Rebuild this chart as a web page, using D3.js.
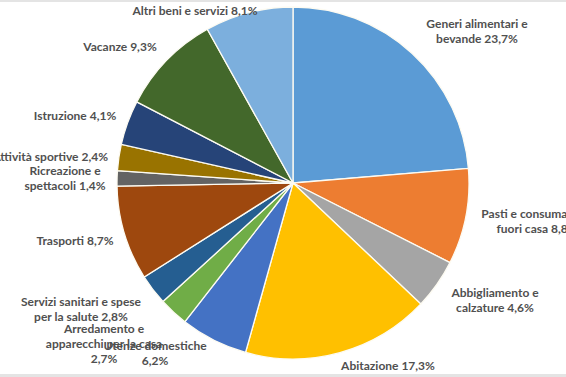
<!DOCTYPE html>
<html>
<head>
<meta charset="utf-8">
<script src="https://cdn.jsdelivr.net/npm/d3@7"></script>
<style>
  html, body { margin: 0; padding: 0; background: #fff; }
  svg { display: block; }
</style>
</head>
<body>
<svg id="chart" width="566" height="377"></svg>
<script>
// spending categories, clockwise from 12 o'clock
var categories = [
  "Generi alimentari e bevande",
  "Pasti e consumazioni fuori casa",
  "Abbigliamento e calzature",
  "Abitazione",
  "Utenze domestiche",
  "Arredamento e apparecchi per la casa",
  "Servizi sanitari e spese per la salute",
  "Trasporti",
  "Ricreazione e spettacoli",
  "Attività sportive",
  "Istruzione",
  "Vacanze",
  "Altri beni e servizi"
];
var shares = [23.7, 8.8, 4.6, 17.3, 6.2, 2.7, 2.8, 8.7, 1.4, 2.4, 4.1, 9.3, 8.1];
var percentLabels = ["23,7%", "8,8%", "4,6%", "17,3%", "6,2%", "2,7%", "2,8%", "8,7%", "1,4%", "2,4%", "4,1%", "9,3%", "8,1%"];

// how each label is broken into lines (last line gets the percentage)
var labelLines = [
  ["Generi alimentari e", "bevande"],
  ["Pasti e consumazioni", "fuori casa"],
  ["Abbigliamento e", "calzature"],
  ["Abitazione"],
  ["Utenze domestiche", ""],
  ["Arredamento e", "apparecchi per la casa", ""],
  ["Servizi sanitari e spese", "per la salute"],
  ["Trasporti"],
  ["Ricreazione e", "spettacoli"],
  ["Attività sportive"],
  ["Istruzione"],
  ["Vacanze"],
  ["Altri beni e servizi"]
];

var colors = ["#5b9bd5", "#ed7d31", "#a5a5a5", "#ffc000", "#4472c4", "#70ad47",
  "#255e91", "#9e480e", "#636363", "#997300", "#264478", "#43682b", "#7cafdd"];

// label anchor (x, baseline of first line, text-anchor), like Excel "best fit"
var labelLayout = [
  [477, 28, "middle"], [537, 218, "middle"], [495, 297, "middle"], [388, 370, "middle"],
  [155, 350, "middle"], [104, 333, "middle"], [81, 306, "middle"], [75, 245, "middle"],
  [65, 175, "middle"], [108, 161, "end"], [75, 120, "middle"], [120, 51, "middle"],
  [195, 15, "middle"]
];

var svg = d3.select("#chart"),
  width = +svg.attr("width"),
  height = +svg.attr("height"),
  cx = 293,
  cy = 183,
  radius = 176;

// thin grey frame strips of the screenshot
svg.append("rect").attr("x", 0).attr("y", 0).attr("width", width).attr("height", 2).attr("fill", "#e4e4e4");
svg.append("rect").attr("x", 0).attr("y", height - 3).attr("width", width).attr("height", 3).attr("fill", "#e4e4e4");

var pie = d3.pie().sort(null).value(function(d) { return d; });
var arc = d3.arc().innerRadius(0).outerRadius(radius);

var g = svg.append("g").attr("transform", "translate(" + cx + "," + cy + ")");

g.selectAll("path")
  .data(pie(shares))
  .enter().append("path")
  .attr("d", arc)
  .attr("fill", function(d, i) { return colors[i]; })
  .attr("stroke", "#fdfbf2")
  .attr("stroke-width", 1.3);

var labels = svg.append("g")
  .attr("font-family", "Lato, 'Open Sans', sans-serif")
  .attr("font-weight", "bold")
  .attr("font-size", 12)
  .attr("fill", "#505050");

labels.selectAll("text")
  .data(categories)
  .enter().append("text")
  .attr("text-anchor", function(d, i) { return labelLayout[i][2]; })
  .each(function(d, i) {
    var t = d3.select(this),
      lines = labelLines[i];
    lines.forEach(function(line, j) {
      var txt = line;
      if (j === lines.length - 1) txt = (line ? line + " " : "") + percentLabels[i];
      t.append("tspan")
        .attr("x", labelLayout[i][0])
        .attr("y", labelLayout[i][1] + j * 15)
        .text(txt);
    });
  });
</script>
</body>
</html>
